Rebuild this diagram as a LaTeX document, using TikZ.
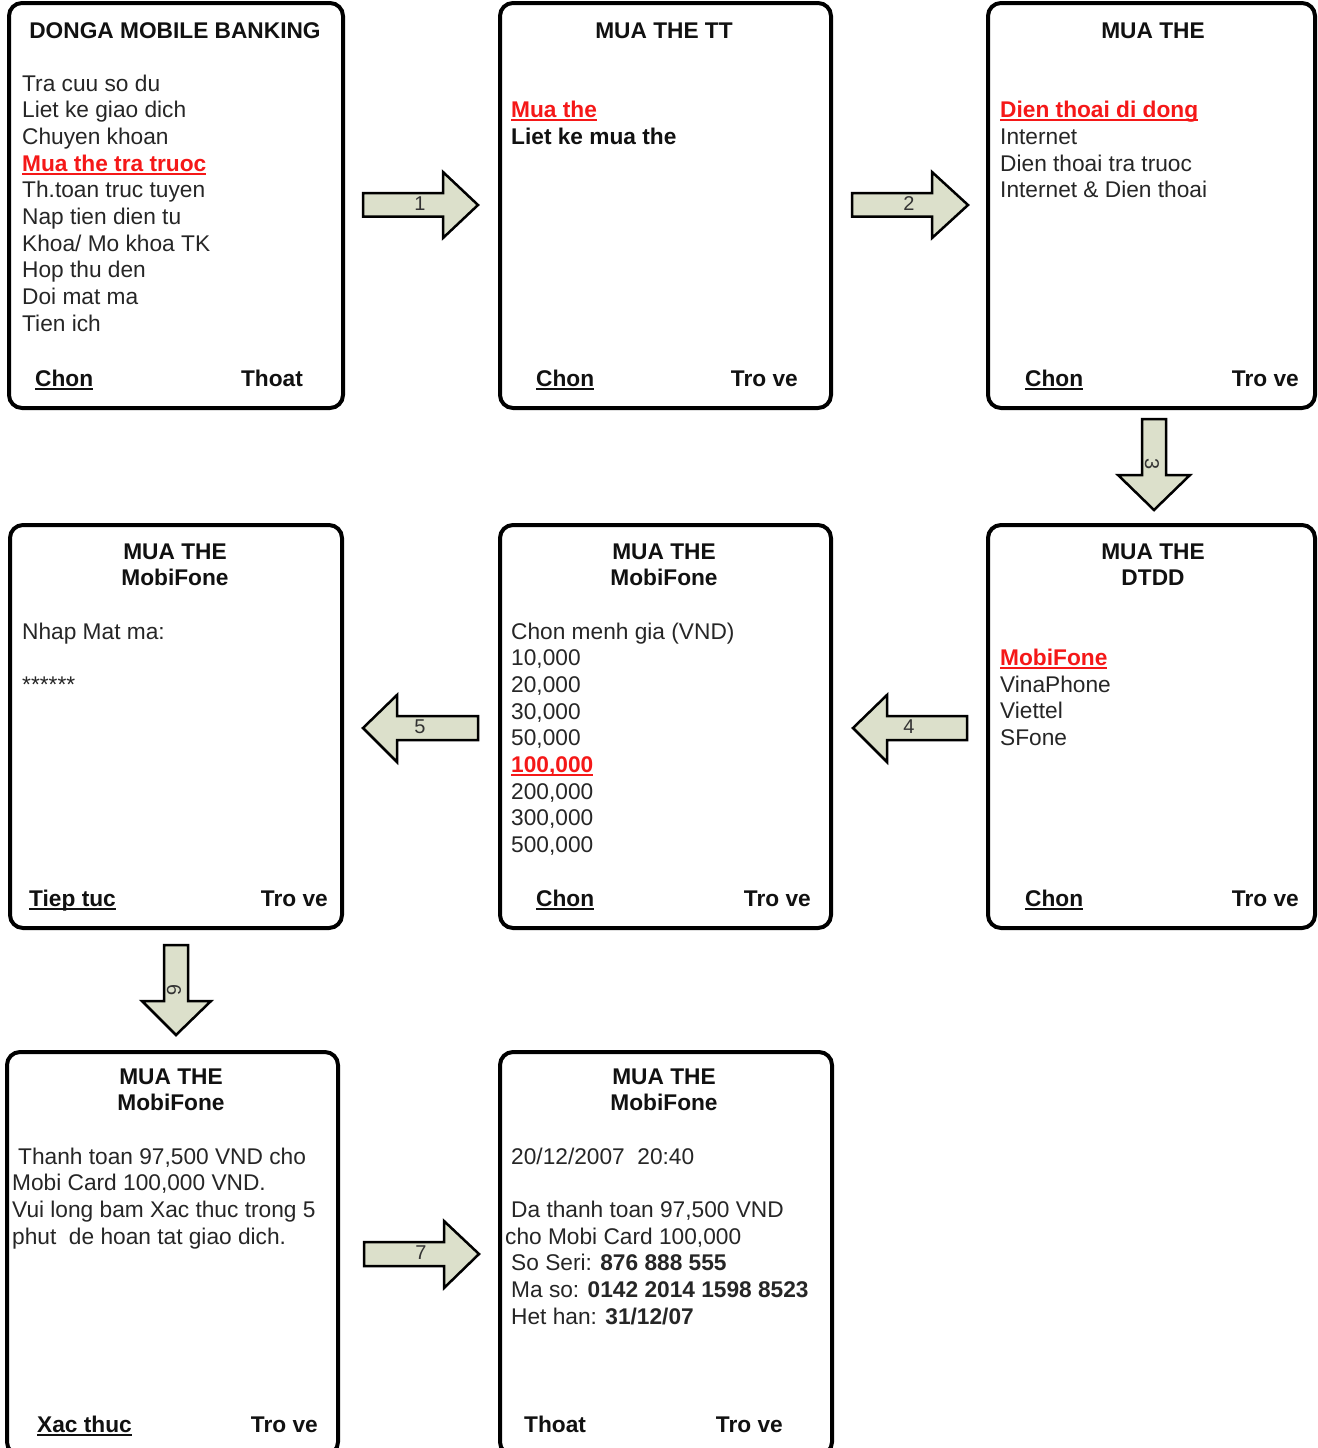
\documentclass[tikz,border=0pt]{standalone}
\usepackage{fontspec}
\setmainfont{Liberation Sans}
\definecolor{bodyc}{HTML}{262626}
\definecolor{titc}{HTML}{111111}
\definecolor{selc}{HTML}{F51818}
\definecolor{arrfill}{HTML}{DCE0CB}
\definecolor{arrtxt}{HTML}{333333}
\newsavebox\ulbox
\newcommand\ulx[1]{\sbox\ulbox{#1}\rlap{\rule[-3.6pt]{\wd\ulbox}{1.9pt}}\usebox\ulbox}
\begin{document}
\begin{tikzpicture}[x=1pt,y=-1pt,
  screen/.style={draw=black, line width=4pt, rounded corners=13pt, fill=white, inner sep=0pt},
  txt/.style={font=\fontsize{22.7}{26.7}\selectfont, inner sep=0pt, text=bodyc, anchor=base west},
  ttl/.style={font=\fontsize{22.7}{26.7}\selectfont\bfseries, inner sep=0pt, text=titc, anchor=base},
  sel/.style={txt, text=selc, font=\fontsize{22.7}{26.7}\selectfont\bfseries},
  softkey/.style={txt, text=titc, font=\fontsize{22.7}{26.7}\selectfont\bfseries},
  softkeyr/.style={softkey, anchor=base east},
  blockarrow/.style={draw=black, line width=2.5pt, fill=arrfill, line join=miter},
  alabel/.style={font=\fontsize{20}{20}\selectfont, text=arrtxt, inner sep=0pt}
]
\useasboundingbox (0,0) rectangle (1317,1448);

% ---------- screens ----------
\node[screen, minimum width=334pt, minimum height=405pt] (s1) at (176,205.5) {};
\node[screen, minimum width=331pt, minimum height=405pt] (s2) at (665.5,205.5) {};
\node[screen, minimum width=327pt, minimum height=405pt] (s3) at (1151.5,205.5) {};
\node[screen, minimum width=332pt, minimum height=403pt] (s4) at (176,726.5) {};
\node[screen, minimum width=331pt, minimum height=403pt] (s5) at (665.5,726.5) {};
\node[screen, minimum width=327pt, minimum height=403pt] (s6) at (1151.5,726.5) {};
\node[screen, minimum width=331pt, minimum height=403pt] (s7) at (172.5,1253.5) {};
\node[screen, minimum width=332pt, minimum height=403pt] (s8) at (666,1253.5) {};

% ---------- screen 1 ----------
\node[ttl] (t1) at (175,38) {DONGA MOBILE BANKING};
\node[txt] (s1a) at (22,91) {Tra cuu so du};
\node[txt] (s1b) at (22,117.7) {Liet ke giao dich};
\node[txt] (s1c) at (22,144.4) {Chuyen khoan};
\node[sel] (s1d) at (22,171.1) {\ulx{Mua the tra truoc}};
\node[txt] (s1e) at (22,197.8) {Th.toan truc tuyen};
\node[txt] (s1f) at (22,224.5) {Nap tien dien tu};
\node[txt] (s1g) at (22,251.2) {Khoa/ Mo khoa TK};
\node[txt] (s1h) at (22,277.9) {Hop thu den};
\node[txt] (s1i) at (22,304.6) {Doi mat ma};
\node[txt] (s1j) at (22,331.3) {Tien ich};
\node[softkey] (k1l) at (35,386) {\ulx{Chon}};
\node[softkeyr] (k1r) at (303,386) {Thoat};

% ---------- screen 2 ----------
\node[ttl] (t2) at (664,38) {MUA THE TT};
\node[sel] (s2a) at (511,117.7) {\ulx{Mua the}};
\node[softkey] (s2b) at (511,144.4) {Liet ke mua the};
\node[softkey] (k2l) at (536,386) {\ulx{Chon}};
\node[softkeyr] (k2r) at (798,386) {Tro ve};

% ---------- screen 3 ----------
\node[ttl] (t3) at (1153,38) {MUA THE};
\node[sel] (s3a) at (1000,117.7) {\ulx{Dien thoai di dong}};
\node[txt] (s3b) at (1000,144.4) {Internet};
\node[txt] (s3c) at (1000,171.1) {Dien thoai tra truoc};
\node[txt] (s3d) at (1000,197.8) {Internet \& Dien thoai};
\node[softkey] (k3l) at (1025,386) {\ulx{Chon}};
\node[softkeyr] (k3r) at (1299,386) {Tro ve};

% ---------- screen 6 (DTDD) ----------
\node[ttl] (t6a) at (1153,559) {MUA THE};
\node[ttl] (t6b) at (1153,585.7) {DTDD};
\node[sel] (s6a) at (1000,665.5) {\ulx{MobiFone}};
\node[txt] (s6b) at (1000,692.2) {VinaPhone};
\node[txt] (s6c) at (1000,718.9) {Viettel};
\node[txt] (s6d) at (1000,745.6) {SFone};
\node[softkey] (k6l) at (1025,906) {\ulx{Chon}};
\node[softkeyr] (k6r) at (1299,906) {Tro ve};

% ---------- screen 5 (menh gia) ----------
\node[ttl] (t5a) at (664,559) {MUA THE};
\node[ttl] (t5b) at (664,585.7) {MobiFone};
\node[txt] (s5a) at (511,639) {Chon menh gia (VND)};
\node[txt] (s5b) at (511,665.7) {10,000};
\node[txt] (s5c) at (511,692.4) {20,000};
\node[txt] (s5d) at (511,719.1) {30,000};
\node[txt] (s5e) at (511,745.8) {50,000};
\node[sel] (s5f) at (511,772.5) {\ulx{100,000}};
\node[txt] (s5g) at (511,799.2) {200,000};
\node[txt] (s5h) at (511,825.9) {300,000};
\node[txt] (s5i) at (511,852.6) {500,000};
\node[softkey] (k5l) at (536,906) {\ulx{Chon}};
\node[softkeyr] (k5r) at (811,906) {Tro ve};

% ---------- screen 4 (mat ma) ----------
\node[ttl] (t4a) at (175,559) {MUA THE};
\node[ttl] (t4b) at (175,585.7) {MobiFone};
\node[txt] (s4a) at (22,639) {Nhap Mat ma:};
\node[txt] (s4b) at (22,692.4) {******};
\node[softkey] (k4l) at (29,906) {\ulx{Tiep tuc}};
\node[softkeyr] (k4r) at (328,906) {Tro ve};

% ---------- screen 7 (xac thuc) ----------
\node[ttl] (t7a) at (171,1084) {MUA THE};
\node[ttl] (t7b) at (171,1110.7) {MobiFone};
\node[txt] (s7a) at (18,1164) {Thanh toan 97,500 VND cho};
\node[txt] (s7b) at (12,1190.7) {Mobi Card 100,000 VND.};
\node[txt] (s7c) at (12,1217.4) {Vui long bam Xac thuc trong 5};
\node[txt] (s7d) at (12,1244.1) {phut\ \ de hoan tat giao dich.};
\node[softkey] (k7l) at (37,1432) {\ulx{Xac thuc}};
\node[softkeyr] (k7r) at (318,1432) {Tro ve};

% ---------- screen 8 (ket qua) ----------
\node[ttl] (t8a) at (664,1084) {MUA THE};
\node[ttl] (t8b) at (664,1110.7) {MobiFone};
\node[txt] (s8a) at (511,1164) {20/12/2007\ \ 20:40};
\node[txt] (s8b) at (511,1217.4) {Da thanh toan 97,500 VND};
\node[txt] (s8c) at (505,1244.1) {cho Mobi Card 100,000};
\node[txt] (s8d) at (511,1270.8) {So Seri: \textbf{876 888 555}};
\node[txt] (s8e) at (511,1297.5) {Ma so: \textbf{0142 2014 1598 8523}};
\node[txt] (s8f) at (511,1324.2) {Het han: \textbf{31/12/07}};
\node[softkey] (k8l) at (524,1432) {Thoat};
\node[softkeyr] (k8r) at (783,1432) {Tro ve};

% ---------- block arrows ----------
% 1: right
\draw[blockarrow] (363,193) -- (443,193) -- (443,172) -- (478,205) -- (443,238) -- (443,216.5) -- (363,216.5) -- cycle;
\node[alabel] (a1) at (420,204) {1};
% 2: right
\draw[blockarrow] (852,193) -- (932,193) -- (932,172) -- (968,205) -- (932,238) -- (932,216.5) -- (852,216.5) -- cycle;
\node[alabel] (a2) at (909,204) {2};
% 3: down
\draw[blockarrow] (1142,419) -- (1166,419) -- (1166,475) -- (1190,475) -- (1154,510) -- (1118,475) -- (1142,475) -- cycle;
\node[alabel, rotate=-90] (a3) at (1152,464) {3};
% 4: left
\draw[blockarrow] (967,716) -- (887,716) -- (887,695) -- (853,728) -- (887,762) -- (887,740) -- (967,740) -- cycle;
\node[alabel] (a4) at (909,727) {4};
% 5: left
\draw[blockarrow] (478,716) -- (397,716) -- (397,695) -- (363,728) -- (397,762) -- (397,740) -- (478,740) -- cycle;
\node[alabel] (a5) at (420,727) {5};
% 6: down
\draw[blockarrow] (164,945) -- (188,945) -- (188,1001) -- (211,1001) -- (176,1035) -- (142,1001) -- (164,1001) -- cycle;
\node[alabel, rotate=-90] (a6) at (174,990) {6};
% 7: right
\draw[blockarrow] (364,1242) -- (444,1242) -- (444,1221) -- (479,1254) -- (444,1288) -- (444,1266) -- (364,1266) -- cycle;
\node[alabel] (a7) at (421,1253) {7};
\end{tikzpicture}
\end{document}
